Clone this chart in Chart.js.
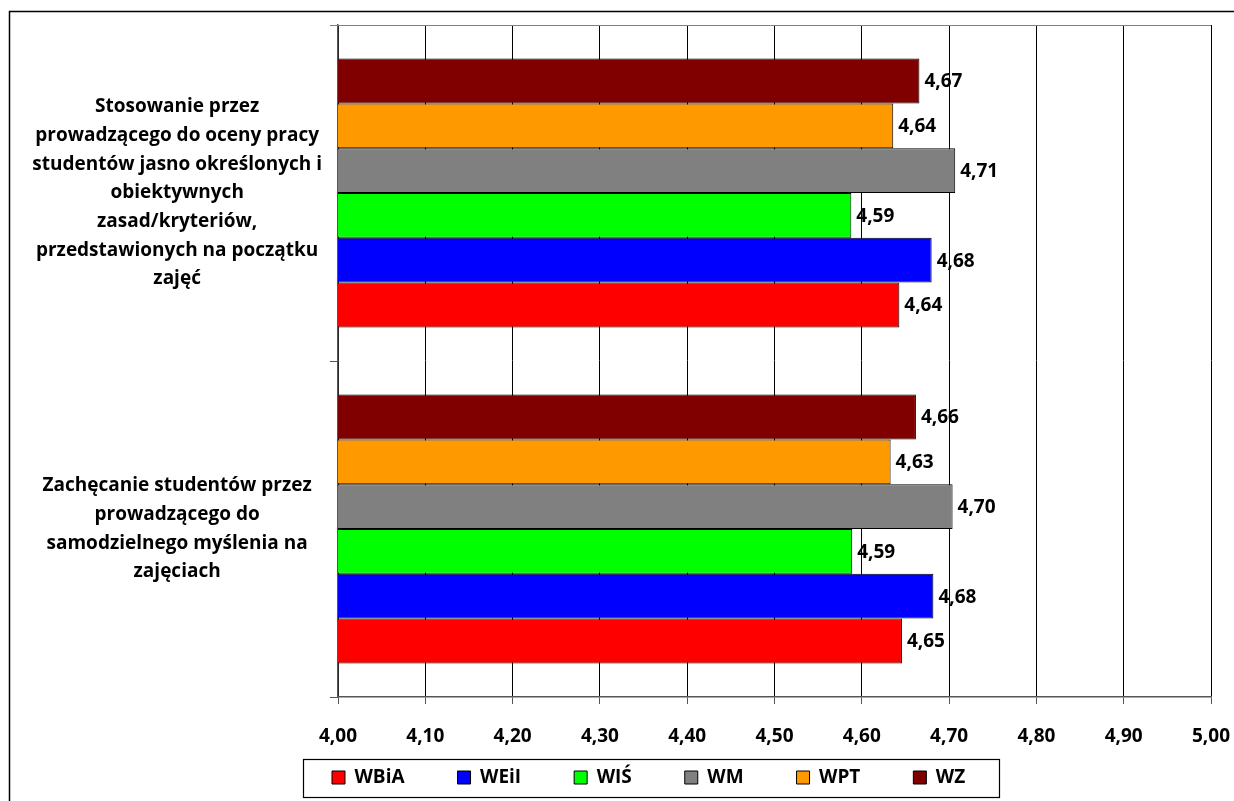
<!DOCTYPE html>
<html>
<head>
<meta charset="utf-8">
<script src="https://cdn.jsdelivr.net/npm/chart.js@4.4.1/dist/chart.umd.min.js"></script>
<style>
  html, body { margin: 0; padding: 0; background: #fff; overflow: hidden; }
  canvas { display: block; }
</style>
</head>
<body>
<canvas id="chart" width="1234" height="801"></canvas>
<script>
// categories, bottom one first (the y axis is reversed)
const categories = [
  ["Zachęcanie studentów przez", "prowadzącego do", "samodzielnego myślenia na", "zajęciach"],
  ["Stosowanie przez", "prowadzącego do oceny pracy", "studentów jasno określonych i",
   "obiektywnych", "zasad/kryteriów,", "przedstawionych na początku", "zajęć"]
];

const seriesNames = ["WBiA", "WEiI", "WIŚ", "WM", "WPT", "WZ"];
const seriesColors = ["#FF0000", "#0000FF", "#00FF00", "#808080", "#FF9900", "#800000"];

const wbia = [4.646, 4.643];
const weii = [4.682, 4.680];
const wis  = [4.589, 4.588];
const wm   = [4.704, 4.707];
const wpt  = [4.633, 4.636];
const wz   = [4.662, 4.666];

const xTicks = [4.0, 4.1, 4.2, 4.3, 4.4, 4.5, 4.6, 4.7, 4.8, 4.9, 5.0];

const FONT = "'Open Sans'";
const FS = 19;
const fmt = v => Number(v).toFixed(2).replace(".", ",");

Chart.defaults.font.family = FONT;
Chart.defaults.color = "#000";

const seriesValues = [wbia, weii, wis, wm, wpt, wz];

// bars inside a category are stacked top-down in dataset order,
// so the datasets go in reversed and the legend is reversed back
const datasets = seriesNames.map((name, i) => ({
  label: name,
  data: seriesValues[i],
  backgroundColor: seriesColors[i],
  borderColor: "#000",
  borderWidth: 1,
  borderSkipped: false,
  categoryPercentage: 0.8,
  barPercentage: 1.0
})).reverse();

// outer frame, top edge of plot, legend box
const framePlugin = {
  id: "frame",
  afterLayout(chart) {
    // legend rows sit lower than the layout box; move the box up over the axis labels
    const lg = chart.legend;
    lg.left = 279;
    lg.top = 715;
    lg.bottom = 796;
    lg.height = lg.bottom - lg.top;
    lg.width = lg.right - lg.left;
  },
  beforeDraw(chart) {
    const ctx = chart.ctx;
    ctx.save();
    ctx.strokeStyle = "#000";
    ctx.lineWidth = 1.5;
    ctx.strokeRect(9.5, 11.5, 1400, 1000);
    ctx.restore();
  },
  afterDraw(chart) {
    const ctx = chart.ctx;
    const a = chart.chartArea;
    ctx.save();
    ctx.strokeStyle = "#808080";
    ctx.lineWidth = 1;
    ctx.beginPath();
    ctx.moveTo(a.left - 8, Math.round(a.top) + 0.5);
    ctx.lineTo(a.right, Math.round(a.top) + 0.5);
    ctx.stroke();

    const hb = chart.legend.legendHitBoxes;
    if (hb && hb.length) {
      const first = hb[0], last = hb[hb.length - 1];
      const left = Math.round(first.left - 29) + 0.5;
      const right = Math.round(last.left + last.width + 34) + 0.5;
      const cy = first.top + first.height / 2;
      ctx.strokeStyle = "#000";
      ctx.lineWidth = 1.2;
      ctx.strokeRect(left, Math.round(cy - 19) + 0.5, right - left, 38);
    }
    ctx.restore();
  }
};

// value labels at the end of each bar
const valueLabels = {
  id: "valueLabels",
  afterDatasetsDraw(chart) {
    const ctx = chart.ctx;
    ctx.save();
    ctx.font = "bold " + FS + "px " + FONT;
    ctx.fillStyle = "#000";
    ctx.textAlign = "left";
    ctx.textBaseline = "middle";
    chart.data.datasets.forEach((ds, i) => {
      const meta = chart.getDatasetMeta(i);
      meta.data.forEach((el, j) => {
        ctx.fillText(fmt(ds.data[j]), el.x + 5, el.y + 1);
      });
    });
    ctx.restore();
  }
};

new Chart(document.getElementById("chart"), {
  type: "bar",
  data: { labels: categories, datasets },
  options: {
    indexAxis: "y",
    responsive: false,
    animation: false,
    layout: { padding: { left: 10, right: 23, top: 25, bottom: 5 } },
    scales: {
      x: {
        min: 4,
        max: 5,
        afterBuildTicks(scale) {
          scale.ticks = xTicks.map(v => ({ value: v }));
        },
        afterFit(scale) {
          scale.height = 69;
          scale.paddingLeft = 0;
          scale.paddingRight = 0;
        },
        ticks: {
          callback: v => fmt(v),
          font: { size: FS, weight: "bold" },
          padding: 21,
          maxRotation: 0
        },
        grid: { color: "#000", lineWidth: 1, tickLength: 7, tickColor: "#555" },
        border: { color: "#555", width: 1.5 }
      },
      y: {
        reverse: true,
        afterFit(scale) {
          scale.width = 328;
          scale.paddingTop = 0;
          scale.paddingBottom = 0;
        },
        ticks: {
          crossAlign: "center",
          padding: 8,
          font: { size: FS, weight: "bold", lineHeight: 1.51 }
        },
        grid: { drawOnChartArea: false, tickLength: 8, color: "#555" },
        border: { color: "#555", width: 1.5 }
      }
    },
    plugins: {
      legend: {
        position: "bottom",
        align: "start",
        reverse: true,
        maxHeight: 30,
        labels: {
          boxWidth: 13,
          boxHeight: 13,
          padding: 53,
          font: { size: FS, weight: "bold" },
          color: "#000"
        }
      },
      tooltip: { enabled: false }
    }
  },
  plugins: [framePlugin, valueLabels]
});
</script>
</body>
</html>
